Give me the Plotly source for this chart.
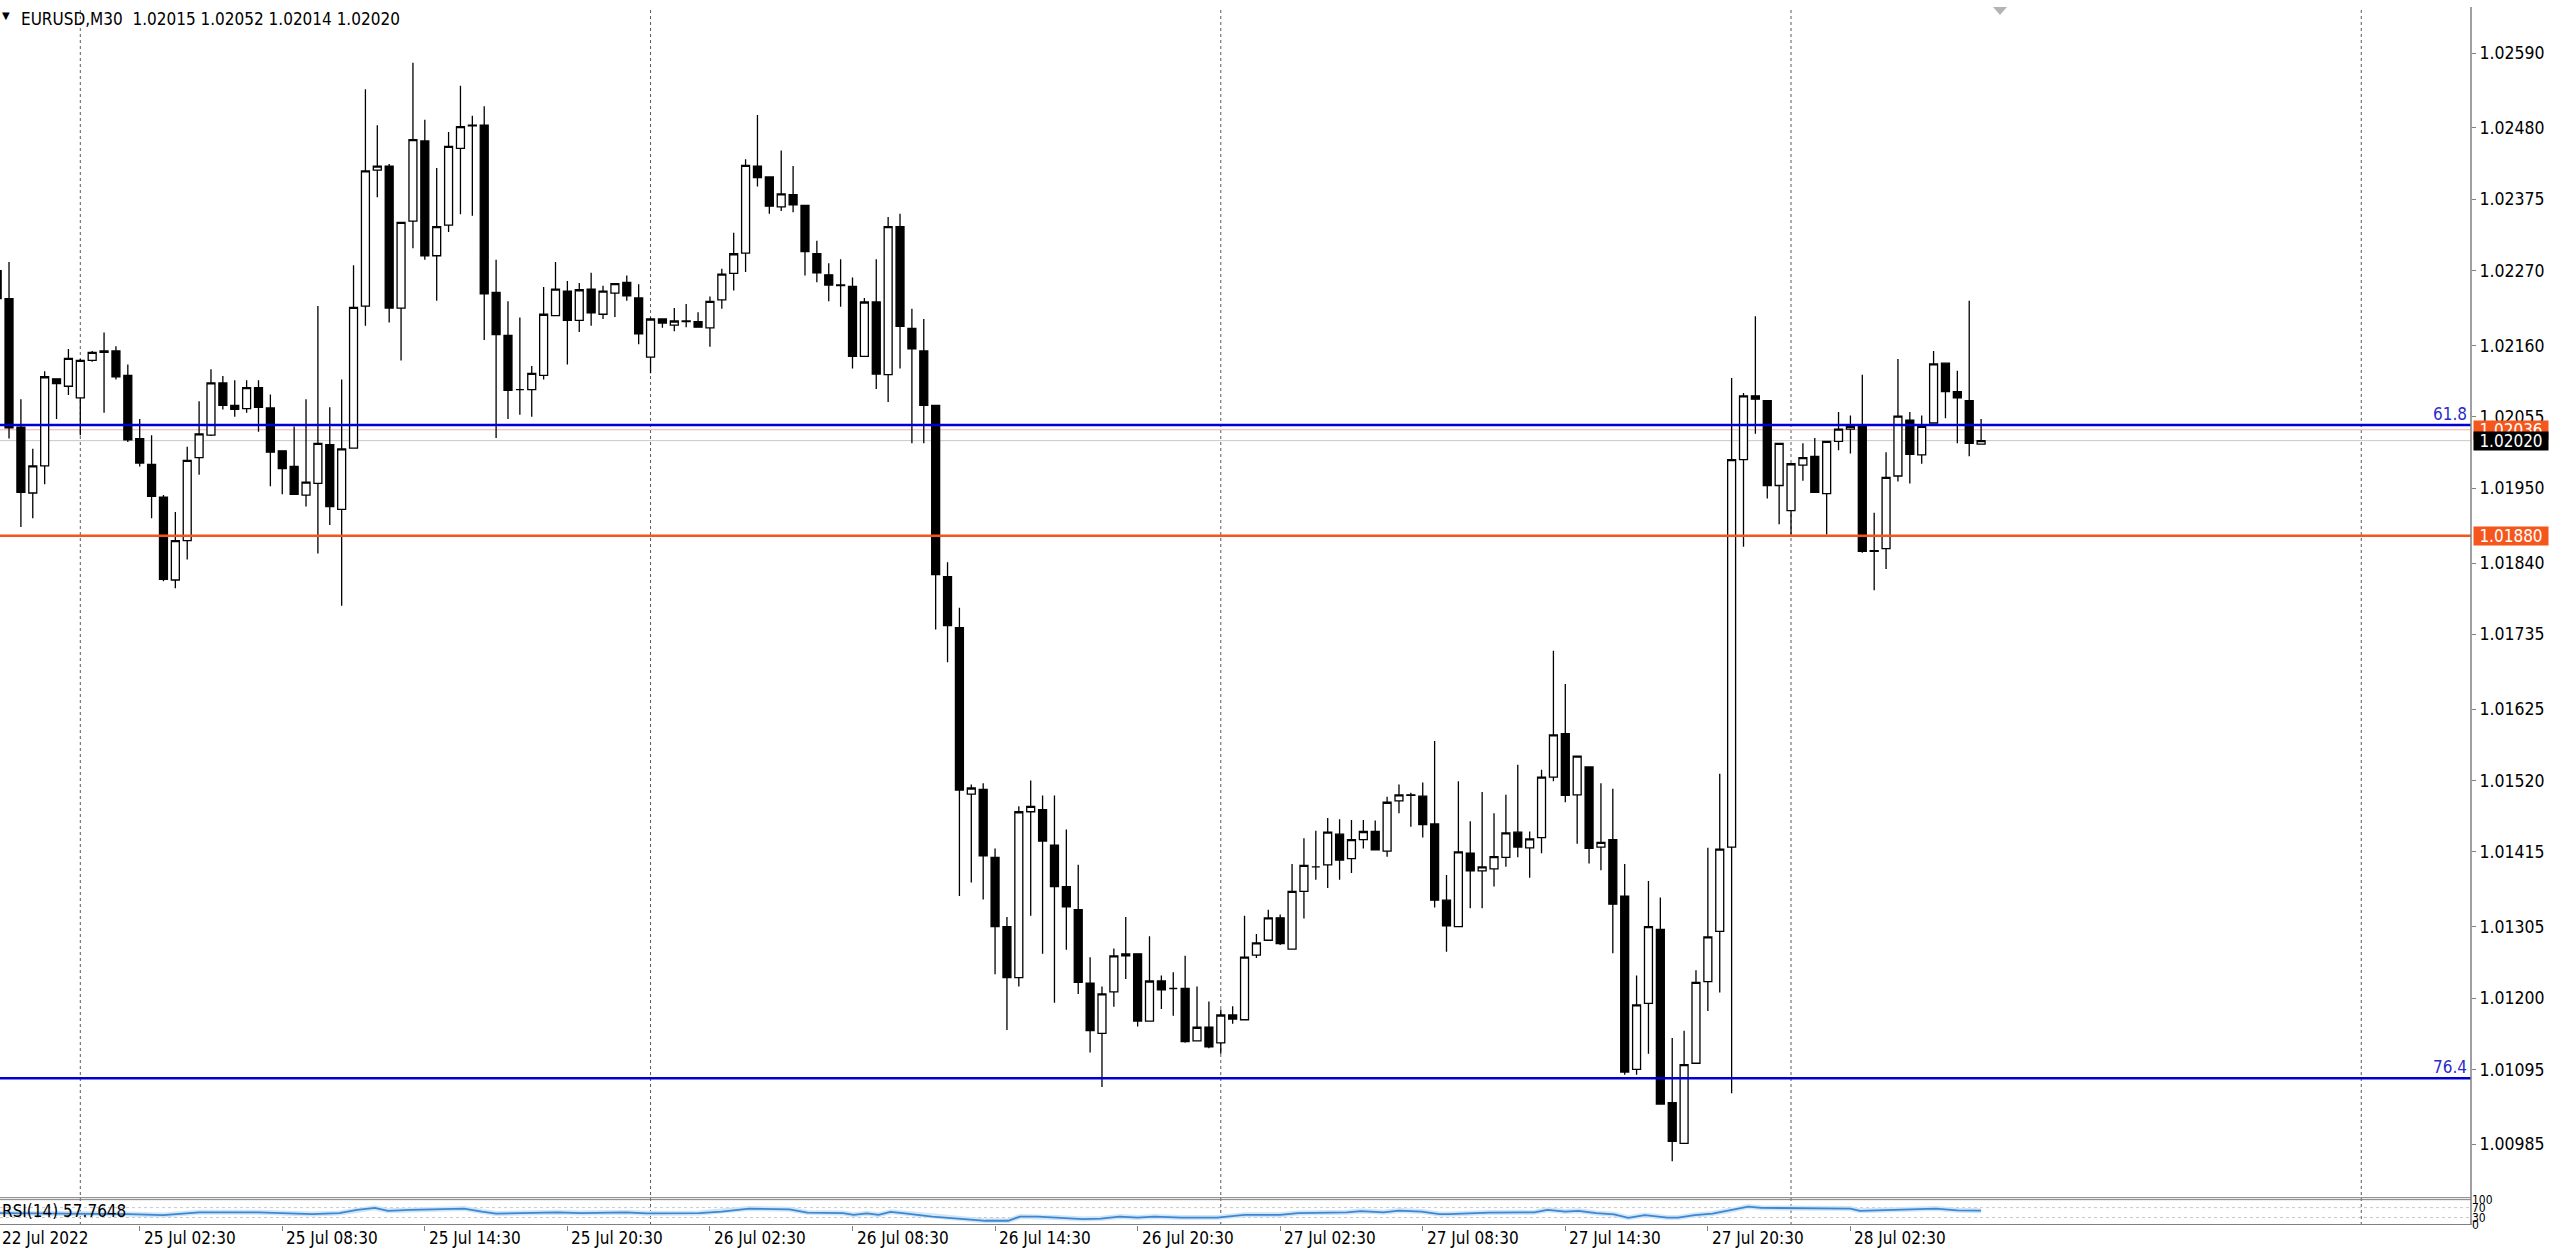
import plotly.graph_objects as go

# ---------------- data ----------------
opens = [1.02270, 1.02229, 1.02040, 1.01943, 1.01983, 1.02111, 1.02100, 1.02083, 1.02138, 1.02150,
         1.02152, 1.02116, 1.02023, 1.01985, 1.01937, 1.01815, 1.01873, 1.01995, 1.02028, 1.02105,
         1.02072, 1.02067, 1.02098, 1.02068, 1.02005, 1.01982, 1.01940, 1.01957, 1.02014, 1.01919,
         1.02009, 1.02218, 1.02418, 1.02424, 1.02215, 1.02343, 1.02461, 1.02292, 1.02337, 1.02450,
         1.02483, 1.02484, 1.02238, 1.02175, 1.02095, 1.02095, 1.02116, 1.02204, 1.02240, 1.02197,
         1.02243, 1.02206, 1.02237, 1.02253, 1.02230, 1.02143, 1.02199, 1.02190, 1.02195, 1.02195,
         1.02186, 1.02227, 1.02266, 1.02296, 1.02424, 1.02408, 1.02364, 1.02382, 1.02366, 1.02295,
         1.02264, 1.02249, 1.02247, 1.02144, 1.02224, 1.02117, 1.02335, 1.02185, 1.02152, 1.02072,
         1.01820, 1.01745, 1.01500, 1.01507, 1.01407, 1.01305, 1.01230, 1.01474, 1.01477, 1.01425,
         1.01364, 1.01330, 1.01222, 1.01148, 1.01209, 1.01262, 1.01265, 1.01166, 1.01225, 1.01214,
         1.01214, 1.01137, 1.01157, 1.01134, 1.01175, 1.01168, 1.01263, 1.01285, 1.01318, 1.01272,
         1.01357, 1.01393, 1.01396, 1.01441, 1.01405, 1.01433, 1.01445, 1.01416, 1.01490, 1.01499,
         1.01497, 1.01456, 1.01344, 1.01305, 1.01413, 1.01387, 1.01390, 1.01407, 1.01444, 1.01421,
         1.01436, 1.01525, 1.01589, 1.01499, 1.01540, 1.01422, 1.01433, 1.01350, 1.01095, 1.01192,
         1.01301, 1.01046, 1.00986, 1.01104, 1.01224, 1.01298, 1.01422, 1.01992, 1.02086, 1.02079,
         1.01954, 1.01917, 1.01984, 1.01997, 1.01942, 1.02019, 1.02037, 1.02043, 1.01858, 1.01861,
         1.01968, 1.02050, 1.01999, 1.02046, 1.02134, 1.02092, 1.02079, 1.02015]
highs = [1.02290, 1.02283, 1.02081, 1.02008, 1.02122, 1.02111, 1.02155, 1.02140, 1.02152, 1.02179,
         1.02159, 1.02132, 1.02052, 1.02028, 1.01940, 1.01915, 1.02011, 1.02078, 1.02125, 1.02115,
         1.02109, 1.02109, 1.02109, 1.02088, 1.02005, 1.02041, 1.02081, 1.02218, 1.02069, 1.02110,
         1.02278, 1.02537, 1.02484, 1.02427, 1.02341, 1.02576, 1.02492, 1.02421, 1.02474, 1.02542,
         1.02498, 1.02512, 1.02286, 1.02225, 1.02201, 1.02130, 1.02246, 1.02283, 1.02255, 1.02252,
         1.02267, 1.02248, 1.02251, 1.02263, 1.02250, 1.02201, 1.02200, 1.02215, 1.02221, 1.02209,
         1.02232, 1.02273, 1.02326, 1.02434, 1.02499, 1.02408, 1.02447, 1.02424, 1.02366, 1.02314,
         1.02281, 1.02287, 1.02260, 1.02230, 1.02287, 1.02349, 1.02354, 1.02214, 1.02199, 1.02072,
         1.01841, 1.01774, 1.01514, 1.01516, 1.01420, 1.01319, 1.01482, 1.01520, 1.01498, 1.01498,
         1.01448, 1.01396, 1.01260, 1.01217, 1.01273, 1.01319, 1.01265, 1.01291, 1.01233, 1.01238,
         1.01262, 1.01217, 1.01195, 1.01183, 1.01188, 1.01321, 1.01294, 1.01330, 1.01323, 1.01397,
         1.01435, 1.01446, 1.01465, 1.01463, 1.01462, 1.01462, 1.01461, 1.01496, 1.01514, 1.01502,
         1.01517, 1.01578, 1.01381, 1.01519, 1.01460, 1.01503, 1.01472, 1.01499, 1.01543, 1.01445,
         1.01536, 1.01711, 1.01662, 1.01556, 1.01540, 1.01516, 1.01508, 1.01397, 1.01233, 1.01372,
         1.01348, 1.01141, 1.01152, 1.01241, 1.01421, 1.01530, 1.02112, 1.02090, 1.02203, 1.02079,
         1.02016, 1.01986, 1.02016, 1.02024, 1.02019, 1.02062, 1.02057, 1.02117, 1.01914, 1.02003,
         1.02140, 1.02062, 1.02057, 1.02152, 1.02134, 1.02123, 1.02226, 1.02052]
lows = [1.02225, 1.02023, 1.01893, 1.01906, 1.01956, 1.02052, 1.02087, 1.02028, 1.02136, 1.02061,
        1.02110, 1.02018, 1.01982, 1.01906, 1.01813, 1.01803, 1.01845, 1.01970, 1.02027, 1.02066,
        1.02055, 1.02061, 1.02033, 1.01953, 1.01941, 1.01941, 1.01923, 1.01854, 1.01896, 1.01777,
        1.02008, 1.02189, 1.02378, 1.02194, 1.02138, 1.02303, 1.02286, 1.02226, 1.02327, 1.02353,
        1.02351, 1.02168, 1.02024, 1.02052, 1.02058, 1.02055, 1.02110, 1.02204, 1.02132, 1.02180,
        1.02189, 1.02199, 1.02202, 1.02226, 1.02162, 1.02119, 1.02186, 1.02181, 1.02187, 1.02186,
        1.02158, 1.02214, 1.02241, 1.02268, 1.02394, 1.02354, 1.02358, 1.02356, 1.02263, 1.02253,
        1.02225, 1.02217, 1.02126, 1.02144, 1.02096, 1.02077, 1.02126, 1.02016, 1.02016, 1.01742,
        1.01694, 1.01350, 1.01370, 1.01345, 1.01235, 1.01153, 1.01217, 1.01321, 1.01265, 1.01193,
        1.01271, 1.01206, 1.01120, 1.01069, 1.01187, 1.01228, 1.01158, 1.01166, 1.01184, 1.01174,
        1.01134, 1.01137, 1.01126, 1.01118, 1.01162, 1.01168, 1.01259, 1.01285, 1.01278, 1.01272,
        1.01317, 1.01374, 1.01362, 1.01374, 1.01384, 1.01420, 1.01418, 1.01408, 1.01472, 1.01452,
        1.01436, 1.01333, 1.01268, 1.01305, 1.01332, 1.01332, 1.01364, 1.01393, 1.01407, 1.01377,
        1.01413, 1.01519, 1.01488, 1.01427, 1.01398, 1.01388, 1.01266, 1.01087, 1.01087, 1.01118,
        1.01044, 1.00960, 1.00986, 1.01104, 1.01181, 1.01208, 1.01060, 1.01864, 1.02030, 1.01935,
        1.01897, 1.01882, 1.01961, 1.01944, 1.01882, 1.02006, 1.02001, 1.01855, 1.01800, 1.01831,
        1.01960, 1.01957, 1.01986, 1.02046, 1.02053, 1.02016, 1.01997, 1.02014]
closes = [1.02229, 1.02039, 1.01944, 1.01983, 1.02114, 1.02104, 1.02141, 1.02138, 1.02150, 1.02152,
          1.02114, 1.02021, 1.01987, 1.01938, 1.01816, 1.01873, 1.01991, 1.02030, 1.02105, 1.02072,
          1.02066, 1.02098, 1.02069, 1.02003, 1.01979, 1.01941, 1.01959, 1.02016, 1.01923, 1.02008,
          1.02216, 1.02417, 1.02424, 1.02215, 1.02341, 1.02463, 1.02292, 1.02335, 1.02453, 1.02482,
          1.02484, 1.02236, 1.02176, 1.02094, 1.02095, 1.02119, 1.02206, 1.02243, 1.02197, 1.02242,
          1.02208, 1.02240, 1.02251, 1.02233, 1.02177, 1.02199, 1.02193, 1.02196, 1.02196, 1.02187,
          1.02225, 1.02265, 1.02295, 1.02425, 1.02407, 1.02365, 1.02383, 1.02367, 1.02298, 1.02267,
          1.02249, 1.02248, 1.02144, 1.02224, 1.02118, 1.02335, 1.02188, 1.02155, 1.02072, 1.01823,
          1.01748, 1.01506, 1.01509, 1.01409, 1.01305, 1.01230, 1.01474, 1.01482, 1.01431, 1.01364,
          1.01334, 1.01223, 1.01152, 1.01206, 1.01262, 1.01265, 1.01166, 1.01225, 1.01212, 1.01214,
          1.01136, 1.01157, 1.01128, 1.01175, 1.01169, 1.01260, 1.01281, 1.01318, 1.01280, 1.01357,
          1.01395, 1.01393, 1.01444, 1.01403, 1.01433, 1.01445, 1.01418, 1.01488, 1.01499, 1.01498,
          1.01455, 1.01344, 1.01306, 1.01415, 1.01387, 1.01393, 1.01408, 1.01443, 1.01422, 1.01434,
          1.01525, 1.01587, 1.01498, 1.01556, 1.01420, 1.01429, 1.01338, 1.01091, 1.01190, 1.01305,
          1.01044, 1.00989, 1.01102, 1.01223, 1.01290, 1.01419, 1.01992, 1.02086, 1.02081, 1.01954,
          1.02016, 1.01986, 1.01995, 1.01944, 1.02019, 1.02037, 1.02041, 1.01857, 1.01857, 1.01966,
          1.02056, 1.02000, 1.02041, 1.02133, 1.02092, 1.02083, 1.02016, 1.02020]

rsi_bars = [0, 6, 11, 14, 17, 22, 26.5, 28.8, 30.3, 31.8, 32.9, 34.8, 39.3, 40.8, 42, 47.2, 49.1,
            52.9, 54.7, 59.1, 61, 63.3, 66.7, 68.2, 71.2, 72.1, 73.2, 74.2, 75.2, 76.4, 78.7,
            81.7, 83.2, 85.1, 86.1, 87.6, 89.1, 91.4, 92.9, 94.5, 96, 97.4, 99.7, 102.7, 105,
            108, 109.5, 113.6, 114.8, 116.7, 118, 119.9, 121.4, 122.2, 125.6, 129.4, 130.5, 132,
            133.1, 134.6, 136.1, 137.3, 138.7, 140.6, 141.5, 142.9, 144.4, 145.9, 147.4, 148.5,
            150.7, 152.7, 156, 156.8, 159, 163.2, 165, 167]
rsi_values = [48, 47, 44, 40, 51, 51, 44, 48, 61, 69, 57, 61, 66, 54, 46, 51, 48,
              51, 47, 48, 54, 66, 63, 50, 48, 41, 47, 41, 53, 47, 34,
              23, 17, 17, 34, 34, 30, 24, 26, 34, 30, 34, 30, 30, 41,
              41, 48, 51, 56, 51, 58, 54, 44, 44, 50, 51, 61, 54,
              57, 48, 43, 29, 40, 30, 30, 40, 46, 59, 74, 69,
              69, 66, 66, 57, 61, 66, 59, 57.8]
rsi_levels = [30, 70]

price_ticks = [1.02590, 1.02480, 1.02375, 1.02270, 1.02160, 1.02055, 1.01950, 1.01840,
               1.01735, 1.01625, 1.01520, 1.01415, 1.01305, 1.01200, 1.01095, 1.00985]
price_tick_text = ["1.02590", "1.02480", "1.02375", "1.02270", "1.02160", "1.02055", "1.01950",
                   "1.01840", "1.01735", "1.01625", "1.01520", "1.01415", "1.01305", "1.01200",
                   "1.01095", "1.00985"]

time_tick_bars = [12, 24, 36, 48, 60, 72, 84, 96, 108, 120, 132, 144, 156]
time_tick_labels = ["25 Jul 02:30", "25 Jul 08:30", "25 Jul 14:30", "25 Jul 20:30",
                    "26 Jul 02:30", "26 Jul 08:30", "26 Jul 14:30", "26 Jul 20:30",
                    "27 Jul 02:30", "27 Jul 08:30", "27 Jul 14:30", "27 Jul 20:30",
                    "28 Jul 02:30"]
first_date_label = "22 Jul 2022"
day_separator_bars = [7, 55, 103, 151, 199]

fib_names = ["61.8", "76.4"]
fib_prices = [1.02043, 1.01082]
support_price = 1.01880
bid_price = 1.02020
ask_price = 1.02036
header_text = "EURUSD,M30\u00a0\u00a01.02015 1.02052 1.02014 1.02020"
rsi_text = "RSI(14) 57.7648"

# ---------------- figure ----------------
W, H = 2560, 1250
ML, MR, MT, MB = 0, 89, 0, 25
PW, PH = W - ML - MR, H - MT - MB          # plot area in px
main_bottom_px = 1197
rsi_top_px = 1200

FONT = "DejaVu Sans Condensed, DejaVu Sans, sans-serif"
GRAY = "#808080"
BLUE = "#0000D2"
ORANGE = "#F4561C"

bars = list(range(len(opens)))

fig = go.Figure()
fig.add_trace(go.Candlestick(
    x=bars, open=opens, high=highs, low=lows, close=closes,
    increasing=dict(fillcolor="white", line=dict(color="black", width=1.3)),
    decreasing=dict(fillcolor="black", line=dict(color="black", width=1.3)),
    whiskerwidth=0, hoverinfo="skip", showlegend=False,
    xaxis="x", yaxis="y"))

fig.add_trace(go.Scatter(x=rsi_bars, y=rsi_values, mode="lines",
                         line=dict(color="#CFE5F8", width=5), hoverinfo="skip",
                         showlegend=False, xaxis="x", yaxis="y2"))
fig.add_trace(go.Scatter(x=rsi_bars, y=rsi_values, mode="lines",
                         line=dict(color="#3F86D0", width=1.8), hoverinfo="skip",
                         showlegend=False, xaxis="x", yaxis="y2"))

def py(px):  # pixel row -> paper y
    return 1 - (px - MT) / PH

def pxx(px):  # pixel column -> paper x
    return (px - ML) / PW

shapes = []
# day separators
for b in day_separator_bars:
    shapes.append(dict(type="line", xref="x", yref="paper", x0=b, x1=b, y0=0, y1=1,
                       line=dict(color="#5a5a5a", width=1, dash="dot"), layer="below"))
# bid / ask lines
shapes.append(dict(type="line", xref="paper", yref="y", x0=0, x1=1, y0=bid_price, y1=bid_price,
                   line=dict(color="#C8C8C8", width=1), layer="below"))
shapes.append(dict(type="line", xref="paper", yref="y", x0=0, x1=1, y0=ask_price, y1=ask_price,
                   line=dict(color="#F2B2A8", width=1), layer="below"))
# fib levels
for p in fib_prices:
    shapes.append(dict(type="line", xref="paper", yref="y", x0=0, x1=1, y0=p, y1=p,
                       line=dict(color=BLUE, width=2.6)))
# support level
shapes.append(dict(type="line", xref="paper", yref="y", x0=0, x1=1, y0=support_price,
                   y1=support_price, line=dict(color=ORANGE, width=2.6)))
# RSI levels
for lv in rsi_levels:
    shapes.append(dict(type="line", xref="paper", yref="y2", x0=0, x1=1, y0=lv, y1=lv,
                       line=dict(color="#C8C8C8", width=1, dash="dot"), layer="below"))
# panel borders
for ypx in (main_bottom_px + 0.5, main_bottom_px + 2.5, H - MB - 0.5):
    shapes.append(dict(type="line", xref="paper", yref="paper", x0=0, x1=1,
                       y0=py(ypx), y1=py(ypx), line=dict(color=GRAY, width=1)))
shapes.append(dict(type="line", xref="paper", yref="paper", x0=1, x1=1, y0=0, y1=1,
                   line=dict(color=GRAY, width=1.5)))
# chart shift marker
shapes.append(dict(type="path", xref="paper", yref="paper",
                   path=f"M {pxx(1993)},{py(0)} L {pxx(2007)},{py(0)} L {pxx(2000)},{py(8)} Z",
                   fillcolor="#B4B4B4", line=dict(width=0)))

annotations = []
annotations.append(dict(text="▼", xref="paper", yref="paper", x=0, y=1, xanchor="left",
                        yanchor="top", yshift=-1, showarrow=False,
                        font=dict(family="DejaVu Sans", size=10, color="black")))
annotations.append(dict(text=header_text, xref="paper", yref="paper", x=pxx(19), y=1,
                        xanchor="left", yanchor="top", showarrow=False,
                        font=dict(family=FONT, size=17, color="black")))
for name, p in zip(fib_names, fib_prices):
    annotations.append(dict(text=name, xref="paper", yref="y", x=1, y=p, xanchor="right",
                            yanchor="bottom", xshift=-2, yshift=-1, showarrow=False,
                            font=dict(family=FONT, size=17, color="#2B2BC8")))
# price boxes
for txt, p, bg in ((f"{ask_price:.5f}", ask_price, ORANGE),
                   (f"{bid_price:.5f}", bid_price, "black"),
                   (f"{support_price:.5f}", support_price, ORANGE)):
    annotations.append(dict(text=txt, xref="paper", yref="y", x=1, y=p, xanchor="left",
                            yanchor="middle", xshift=2, showarrow=False, bgcolor=bg,
                            width=72, height=16, borderpad=1, align="center",
                            font=dict(family=FONT, size=17, color="white")))
# time labels
annotations.append(dict(text=first_date_label, xref="paper", yref="paper", x=0, y=0,
                        xanchor="left", yanchor="top", yshift=-1, showarrow=False,
                        font=dict(family=FONT, size=17, color="black")))
for b, lab in zip(time_tick_bars, time_tick_labels):
    annotations.append(dict(text=lab, xref="x", yref="paper", x=b, y=0, xanchor="left",
                            yanchor="top", xshift=2, yshift=-1, showarrow=False,
                            font=dict(family=FONT, size=17, color="black")))
annotations.append(dict(text=rsi_text, xref="paper", yref="y2", x=0, y=55, xanchor="left",
                        yanchor="middle", showarrow=False,
                        font=dict(family=FONT, size=17, color="black")))

bar_px = 11.88
x_left = 7 - 80.3 / bar_px
x_right = x_left + PW / bar_px

fig.update_layout(
    width=W, height=H,
    margin=dict(l=ML, r=MR, t=MT, b=MB, pad=0),
    paper_bgcolor="white", plot_bgcolor="white",
    showlegend=False, hovermode=False,
    boxgap=0.33, boxgroupgap=0,
    xaxis=dict(domain=[0, 1], range=[x_left, x_right], anchor="y2",
               showgrid=False, zeroline=False, showline=False,
               tickvals=time_tick_bars, ticks="outside", ticklen=5, tickcolor=GRAY,
               showticklabels=False, rangeslider=dict(visible=False), fixedrange=True),
    yaxis=dict(domain=[py(main_bottom_px), 1], range=[1.00907, 1.02658], side="right",
               anchor="x", showgrid=False, zeroline=False, showline=False,
               tickvals=price_ticks, ticktext=price_tick_text, ticks="outside", ticklen=4,
               tickcolor=GRAY, tickfont=dict(family=FONT, size=17.5, color="black")),
    yaxis2=dict(domain=[0, py(rsi_top_px)], range=[0, 100], side="right", anchor="x",
                showgrid=False, zeroline=False, showline=False,
                tickvals=[0, 30, 70, 100], ticktext=["0", "30", "70", "100"],
                ticks="", tickfont=dict(family=FONT, size=12, color="black")),
    shapes=shapes, annotations=annotations,
)

fig.write_html("out.html",
               config={"displayModeBar": False, "staticPlot": True},
               post_script="document.body.style.margin='0px';document.body.style.padding='0px';"
                           "document.body.style.overflow='hidden';")
